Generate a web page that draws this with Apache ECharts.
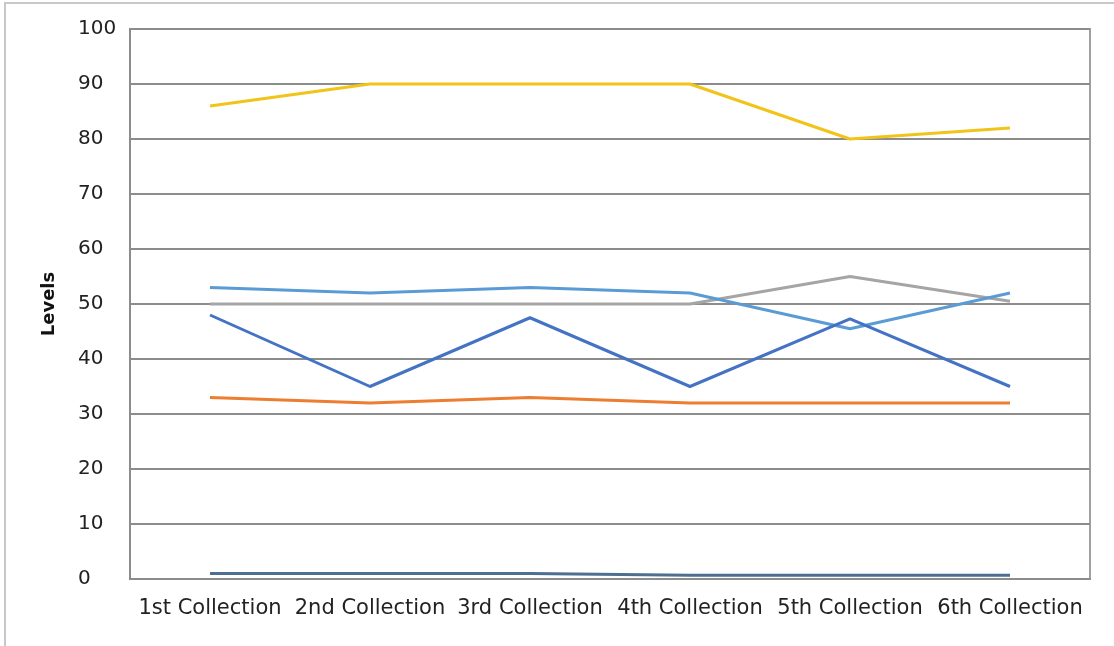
<!DOCTYPE html>
<html><head><meta charset="utf-8">
<script src="https://cdn.jsdelivr.net/npm/echarts@6/dist/echarts.min.js"></script>
<style>html,body{margin:0;padding:0;background:#fff}#c{width:1114px;height:646px}</style>
</head><body><div id="c"></div>
<script>
const categories = ['1st Collection','2nd Collection','3rd Collection','4th Collection','5th Collection','6th Collection'];
const yellowVals = [86, 90, 90, 90, 80, 82];
const lightBlueVals = [53, 52, 53, 52, 45.5, 52];
const grayVals = [50, 50, 50, 50, 55, 50.5];
const darkBlueVals = [48, 35, 47.5, 35, 47.3, 35];
const orangeVals = [33, 32, 33, 32, 32, 32];
const bottomVals = [1, 1, 1, 0.7, 0.7, 0.7];

const chart = echarts.init(document.getElementById('c'));
const mk = (name, data, color, z) => ({name, type:'line', data, symbol:'none', z, lineStyle:{color, width:3}, itemStyle:{color}});
chart.setOption({
  animation:false,
  graphic:[{type:'rect', shape:{x:5,y:3,width:1200,height:800}, style:{fill:'none', stroke:'#c8c8c8', lineWidth:2}, silent:true}],
  grid:{left:130, right:24, top:29, bottom:67, show:true, borderColor:'#a0a0a0', borderWidth:2},
  xAxis:{type:'category', data:categories, boundaryGap:true,
    axisLine:{lineStyle:{color:'#8c8c8c', width:2}}, axisTick:{show:false},
    axisLabel:{color:'#222', fontSize:21, fontFamily:'DejaVu Sans', margin:19, interval:0}},
  yAxis:{type:'value', min:0, max:100, interval:10, name:'Levels', nameLocation:'middle', nameGap:72,
    nameTextStyle:{color:'#111', fontSize:18, fontWeight:'bold', fontFamily:'DejaVu Sans'},
    axisLine:{show:true, lineStyle:{color:'#8c8c8c', width:2}}, axisTick:{show:false},
    axisLabel:{color:'#222', fontSize:20, fontFamily:'DejaVu Sans', margin:52, align:'left'},
    splitLine:{lineStyle:{color:'#8c8c8c', width:2}}},
  series:[
    mk('Gray', grayVals, '#a5a5a5', 2),
    mk('Light Blue', lightBlueVals, '#5b9bd5', 3),
    mk('Dark Blue', darkBlueVals, '#4472c4', 4),
    mk('Orange', orangeVals, '#ed7d31', 3),
    mk('Yellow', yellowVals, '#f0c419', 3),
    mk('Bottom', bottomVals, '#4d7091', 3)
  ]
});
</script></body></html>
